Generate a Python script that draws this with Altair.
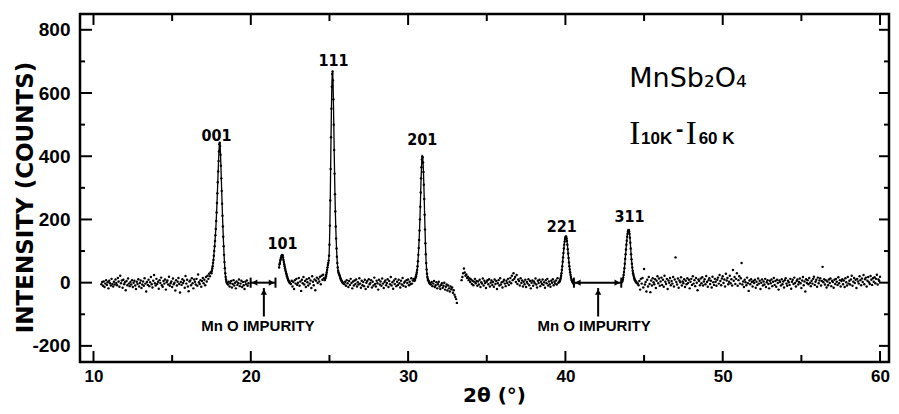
import altair as alt
import pandas as pd

# ---------------- data ----------------
# baseline / peak segments: start 2theta, step, measured difference intensities
base_10_17 = [
    -5, 2, -10, 4, -14, -3, 8, -7, 1, -18, 6, -2, -9, 12, -4, -12, 3, -6, 10, -1,
    -8, 15, 4, -13, 22, -2, 7, -16, 9, -5, 1, -24, 5, -8, 13, -3, -11, 2, -6, 8,
    -14, 0, 6, -9, -20, 3, -4, 11, -12, -1, 7, -17, -6, 4, -10, 14, -3, -28, 2, -7,
    9, -11, 1, 18, -5, -15, 6, 24, -2, -9, 12, -4, 3, -19, 8, -1, 16, -8, -13, 5,
    -3, 10, -22, 1, 7, -6, 19, -10, -2, 4, -14, 13, -5, 0, -25, 8, -9, 3, 15, -4,
    -31, 2, -7, 11, -1, 6, -16, 21, -3, 9, -12, -27, 4, 7, -8, 14, -2, -18, 10, 3,
    -6, 12, -10, 26, 1, -4, 8, -13, 5, 15, -2, 9, -8, 18, 4, 22, 12, 28, 20, 33]
peak_001 = [30, 38, 45, 52, 62, 72, 85, 100, 115, 132, 150, 170, 195, 222, 252, 283, 318,
            352, 385, 415, 438, 443, 432, 405, 370, 330, 290, 250, 212, 178, 145, 115, 88,
            65, 46, 30, 18, 10, 4, 0, -3]
base_18_20 = [-6, 3, -12, -2, 5, -15, -4, 8, -9, 0, -18, 4, -7, -1, 10, -11, -3, 6, -14, 2,
              -8, -20, 3, -5, 7, -10, -2]
peak_101 = [48, 58, 62, 70, 75, 80, 84, 87, 88, 86, 80, 72, 65, 58, 52, 46, 40, 35, 30, 25,
            20, 16, 12, 9, 6, 4, 2, 0, -2]
base_22_25 = [-4, 6, -12, 2, -20, 8, -3, 12, -7, 0, 15, -10, 4, -26, 9, -2, 18, -6, 5, -14,
              11, 1, -9, 14, -3, 7, -17, 20, 3, -8, 10, -24, 6, 16, -1, 12, 4, 19, -5, 22,
              9, 25, 14]
peak_111 = [8, 12, 15, 20, 26, 32, 40, 48, 56, 62, 70, 85, 120, 180, 260, 360, 460, 550, 620,
            660, 668, 640, 580, 500, 420, 345, 280, 225, 178, 140, 108, 82, 62, 48, 38, 32,
            28, 25, 22, 18, 14, 10, 8, 5, 3, 1, 0, -2, -3]
base_26_30 = [
    -5, 3, -10, 8, -2, -14, 5, -7, 12, -1, -18, 4, -9, 7, -4, 10, -12, 1, -6, 14,
    -3, -16, 6, -8, 2, -11, 9, -20, 0, 5, -13, 11, -5, -1, 8, -15, 3, -9, 16, -4,
    -12, 6, -2, -22, 9, -6, 4, -10, 13, -3, -17, 2, 7, -8, -1, 11, -14, 5, -5, 18,
    -9, 1, -19, 7, -4, 12, -11, 3, -7, 9, -2, -15, 6, -6, 15, -10, 0, 4, -13, 8,
    -1, 10, -8, 3, -5, 14, -3, 7, 12]
peak_201 = [5, 8, 12, 16, 20, 26, 32, 40, 52, 68, 88, 110, 135, 165, 200, 240, 285, 330, 365,
            390, 399, 396, 380, 350, 310, 265, 215, 168, 125, 90, 62, 42, 28, 18, 12, 8, 5,
            2, 0, -2, -4]
base_31_33 = [-6, 2, -11, -3, 5, -14, -8, 1, -18, -5, 3, -12, -20, -7, -2, -16, -10, 0, -22,
              -13, -6, -25, -9, -18, -28, -12, -21, -15, -32, -24, -38, -45, -52, -64]
base_33_40 = [
    8, 18, 30, 45, 32, 22, 26, 15, 19, 8, 14, 2, 10, -4, 6, -8, 3, 12, -2, 5,
    -10, 4, -6, 9, -14, 1, -3, 13, -9, 6, -1, -17, 3, 8, -5, 11, -12, 0, 7, -7,
    2, -13, 10, -4, 5, -20, -2, 8, -9, 14, -6, 1, -15, 4, 9, -3, -11, 6, -1, 12,
    -7, 3, 15, -2, 22, 8, 30, 12, 18, 2, 24, -4, 10, 5, -9, 14, -1, 7, -12, 3,
    -5, 9, -14, 2, -3, 11, -8, 5, -18, 0, 7, -10, 4, -2, 13, -6, -15, 6, -1, 9,
    -11, 3, -4, 10, -7, 1, -16, 8, -2, 12, -9, 4, -5, -13, 6, 0, 11, -8, 3, -3,
    7, -6, 14, 0]
peak_221 = [2, 4, 6, 10, 15, 22, 30, 40, 52, 66, 80, 94, 108, 120, 130, 138, 143, 146, 145,
            140, 132, 120, 106, 92, 78, 64, 52, 42, 33, 25, 18, 12, 8, 5, 2, 0, -2, -3, -4]
peak_311 = [2, 5, 10, 16, 24, 34, 46, 60, 75, 90, 105, 120, 133, 145, 155, 162, 166, 167,
            163, 155, 142, 126, 108, 90, 74, 60, 48, 38, 30, 24, 19, 15, 11, 8, 5, 3, 1, 0,
            -1, -2, -3]
base_45_60 = [
    -8, 5, -22, 12, -3, 15, -15, 43, -6, 2, -28, 9, -12, 18, -4, -30, 7, -9, 14, 1,
    -5, 11, -17, 6, 20, -2, 13, -10, 4, 16, -7, 9, -13, 22, 3, -4, 12, -20, 7, 0,
    15, -8, 5, -3, 18, -12, 10, 80, 2, -6, 13, -16, 7, 1, 17, -9, 4, -2, 11, -14,
    6, -5, 14, -1, 9, -18, 3, 12, -7, 20, -3, 8, -11, 15, 0, -24, 10, 5, -8, 13,
    -2, 17, -9, 4, 11, -5, 21, 2, -13, 8, 14, -4, 6, -15, 19, 1, -7, 12, 3, -10,
    9, 16, -3, 24, 5, -8, 13, 20, -1, 10, -12, 28, 7, 15, -5, 3, 22, -2, 11, -9,
    40, 6, 18, -4, 12, 30, -10, 8, 20, -3, 14, 62, -6, 4, -14, 9, 1, -8, 16, -2,
    -26, 7, -5, 11, 2, -12, 5, -1, 9, -16, 3, -7, 13, -3, 6, -20, 0, 10, -9, 4,
    -6, 12, -14, 1, 8, -4, -18, 6, -2, 10, -11, 3, 15, -7, 5, -13, 9, -1, -22, 7,
    2, -9, 11, -5, 4, -15, 8, 14, -3, -10, 6, 1, -7, 12, -19, 3, 9, -4, 16, -1,
    -12, 5, 10, -6, 2, 13, -2, -17, 7, 18, -8, 4, -28, 11, -1, 8, -5, 15, 0, -11,
    6, -3, 12, 19, -7, 3, 9, -13, 16, -2, 7, 14, -9, 5, 50, 1, 11, -6, 8, -15,
    4, -8, 10, -1, 13, -11, 6, 2, -16, 9, -4, 12, 3, -7, 17, -2, 8, -12, 5, 11,
    -5, 7, -14, 14, 1, -9, 18, -3, 6, -6, 10, 22, -10, 3, 15, -1, 9, -17, 12, 4,
    -3, 20, 8, -8, 13, 2, 24, -5, 11, 16, -12, 6, 18, 1, -4, 21, 9, -7, 14, 3,
    17, -2, 12, 25, -6, 10, 5, 19]

seg_start = [10.50, 17.50, 18.55, 21.80, 22.55, 24.70, 25.95, 30.40, 31.45, 33.40, 39.60, 43.60, 44.65]
seg_step = [0.05, 0.025, 0.05, 0.025, 0.05, 0.025, 0.05, 0.025, 0.05, 0.05, 0.025, 0.025, 0.05]
seg_is_peak = [False, True, False, True, False, True, False, True, False, False, True, True, False]
seg_values = [base_10_17, peak_001, base_18_20, peak_101, base_22_25, peak_111, base_26_30,
              peak_201, base_31_33, base_33_40, peak_221, peak_311, base_45_60]

peak_label_text = ["001", "101", "111", "201", "221", "311"]
peak_label_x = [17.82, 22.01, 25.25, 30.90, 39.77, 44.08]
peak_label_y = [447, 105, 684, 434, 161, 193]

impurity_from = [19.99, 40.54]
impurity_to = [21.57, 43.55]
impurity_arrow_x = [20.83, 42.08]
impurity_text_x = [20.45, 41.82]
impurity_text = ["Mn O IMPURITY", "Mn O IMPURITY"]

x_major_ticks = [10, 20, 30, 40, 50, 60]
x_minor_ticks = [15, 25, 35, 45, 55]
y_major_ticks = [-200, 0, 200, 400, 600, 800]
y_minor_ticks = [-100, 100, 300, 500, 700]

# ---------------- tables ----------------
rows = []
for k, (s, st, vals, pk) in enumerate(zip(seg_start, seg_step, seg_values, seg_is_peak)):
    for i, v in enumerate(vals):
        rows.append({"theta": round(s + i * st, 3), "counts": v, "seg": k, "peak": pk})
df = pd.DataFrame(rows)
df_peak = df[df["peak"]]

W, H = 809, 348
XMIN, XMAX = 9.142, 60.57
YMIN, YMAX = -251, 850
xs = alt.Scale(domain=[XMIN, XMAX], nice=False, zero=False)
ys = alt.Scale(domain=[YMIN, YMAX], nice=False, zero=False)

AX_FONT = "Liberation Sans"
x_axis = alt.Axis(values=x_major_ticks, ticks=False, tickSize=0, domain=False, grid=False,
                  labelFont=AX_FONT, labelFontSize=17, labelFontWeight="bold", labelColor="black",
                  labelPadding=6, labelFlush=False, labelExpr="'' + datum.value",
                  title="2θ (°)", titleFont="DejaVu Sans", titleFontSize=20, titleFontWeight="bold",
                  titleColor="black", titleX=414, titleY=33, titleAlign="center", titleBaseline="middle")
y_axis = alt.Axis(values=y_major_ticks, ticks=False, tickSize=0, domain=False, grid=False,
                  labelFont=AX_FONT, labelFontSize=19, labelFontWeight="bold", labelColor="black",
                  labelPadding=10, labelFlush=False, labelExpr="'' + datum.value",
                  title="INTENSITY (COUNTS)", titleFont="DejaVu Sans", titleFontSize=23,
                  titleFontWeight="bold", titleColor="black", titleAngle=270,
                  titleX=-55, titleY=183, titleAlign="center", titleBaseline="middle")


def X(field):
    return alt.X(field, type="quantitative", scale=xs, axis=x_axis)


def Y(field):
    return alt.Y(field, type="quantitative", scale=ys, axis=y_axis)


points = alt.Chart(df).mark_circle(size=6, color="black", opacity=1).encode(
    x=X("theta"), y=Y("counts"))
lines = alt.Chart(df_peak).mark_line(color="black", strokeWidth=1.3).encode(
    x=X("theta"), y=Y("counts"), detail="seg:N")


def xtick(vals, top, length):
    d = pd.DataFrame({"v": vals})
    if top:
        yy, yy2 = alt.value(0), alt.value(length)
    else:
        yy, yy2 = alt.value(H), alt.value(H - length)
    return alt.Chart(d).mark_rule(color="black", strokeWidth=2).encode(x=X("v"), y=yy, y2=yy2)


def ytick(vals, right, length):
    d = pd.DataFrame({"v": vals})
    if right:
        xx, xx2 = alt.value(W), alt.value(W - length)
    else:
        xx, xx2 = alt.value(0), alt.value(length)
    return alt.Chart(d).mark_rule(color="black", strokeWidth=2).encode(y=Y("v"), x=xx, x2=xx2)


ticks = [xtick(x_major_ticks, False, 11), xtick(x_minor_ticks, False, 7),
         xtick(x_major_ticks, True, 11), xtick(x_minor_ticks, True, 7),
         ytick(y_major_ticks, False, 12), ytick(y_minor_ticks, False, 5),
         ytick(y_major_ticks, True, 10), ytick(y_minor_ticks, True, 5)]

# peak labels
lab_df = pd.DataFrame({"t": peak_label_text, "x": peak_label_x, "y": peak_label_y})
peak_labels = alt.Chart(lab_df).mark_text(
    font="Liberation Sans Narrow, DejaVu Sans Condensed, sans-serif", fontSize=16, fontWeight="bold",
    color="black", align="center", baseline="alphabetic").encode(
    x=X("x"), y=Y("y"), text="t:N")

# impurity annotations
imp_df = pd.DataFrame({"x1": impurity_from, "x2": impurity_to, "xa": impurity_arrow_x,
                       "xt": impurity_text_x, "t": impurity_text,
                       "y0": [0, 0], "yb1": [-16, -16], "yb2": [16, 16],
                       "ya1": [-107, -107], "ya2": [-17, -17], "yt": [-137, -137]})
imp_h = alt.Chart(imp_df).mark_rule(color="black", strokeWidth=2).encode(
    x=X("x1"), x2="x2:Q", y=Y("y0"))
imp_b1 = alt.Chart(imp_df).mark_rule(color="black", strokeWidth=2).encode(
    x=X("x1"), y=Y("yb1"), y2="yb2:Q")
imp_b2 = alt.Chart(imp_df).mark_rule(color="black", strokeWidth=2).encode(
    x=X("x2"), y=Y("yb1"), y2="yb2:Q")
imp_hl = alt.Chart(imp_df).mark_point(shape="triangle-left", filled=True, size=40, color="black",
                                      opacity=1, xOffset=4).encode(x=X("x1"), y=Y("y0"))
imp_hr = alt.Chart(imp_df).mark_point(shape="triangle-right", filled=True, size=40, color="black",
                                      opacity=1, xOffset=-4).encode(x=X("x2"), y=Y("y0"))
imp_v = alt.Chart(imp_df).mark_rule(color="black", strokeWidth=2).encode(
    x=X("xa"), y=Y("ya1"), y2="ya2:Q")
imp_vh = alt.Chart(imp_df).mark_point(shape="triangle-up", filled=True, size=40, color="black",
                                      opacity=1, yOffset=4).encode(x=X("xa"), y=Y("ya2"))
imp_t = alt.Chart(imp_df).mark_text(font="Liberation Sans", fontSize=15, fontWeight="bold",
                                    color="black", align="center", baseline="middle").encode(
    x=X("xt"), y=Y("yt"), text="t:N")

# compound / difference labels
formula_df = pd.DataFrame({"t": ["MnSb₂O₄"], "x": [44.06], "y": [618]})
formula = alt.Chart(formula_df).mark_text(font="DejaVu Sans", fontSize=27, color="black",
                                          align="left", baseline="alphabetic").encode(
    x=X("x"), y=Y("y"), text="t:N")

big_I_df = pd.DataFrame({"t": ["I", "I"], "x": [44.06, 47.65], "y": [439, 439]})
big_I = alt.Chart(big_I_df).mark_text(font="Liberation Serif", fontSize=33, color="black",
                                      align="left", baseline="alphabetic").encode(
    x=X("x"), y=Y("y"), text="t:N")
sub_df = pd.DataFrame({"t": ["10K", "60 K"], "x": [44.81, 48.47], "y": [439, 439]})
subs = alt.Chart(sub_df).mark_text(font="Liberation Sans", fontSize=17, fontWeight="bold",
                                   color="black", align="left", baseline="alphabetic").encode(
    x=X("x"), y=Y("y"), text="t:N")
dash_df = pd.DataFrame({"t": ["-"], "x": [47.03], "y": [464]})
dash = alt.Chart(dash_df).mark_text(font="Liberation Sans", fontSize=22, fontWeight="bold",
                                    color="black", align="left", baseline="alphabetic").encode(
    x=X("x"), y=Y("y"), text="t:N")

chart = alt.layer(
    points, lines, *ticks, peak_labels, imp_h, imp_b1, imp_b2, imp_hl, imp_hr, imp_v, imp_vh,
    imp_t, formula, big_I, subs, dash
).properties(
    width=W, height=H,
    padding={"left": 72, "top": 6, "right": 2, "bottom": 44},
    autosize=alt.AutoSizeParams(type="none"),
    background="white",
).configure_view(stroke="black", strokeWidth=2.5)

chart.save("out.html", embed_options={"renderer": "svg", "actions": False})
